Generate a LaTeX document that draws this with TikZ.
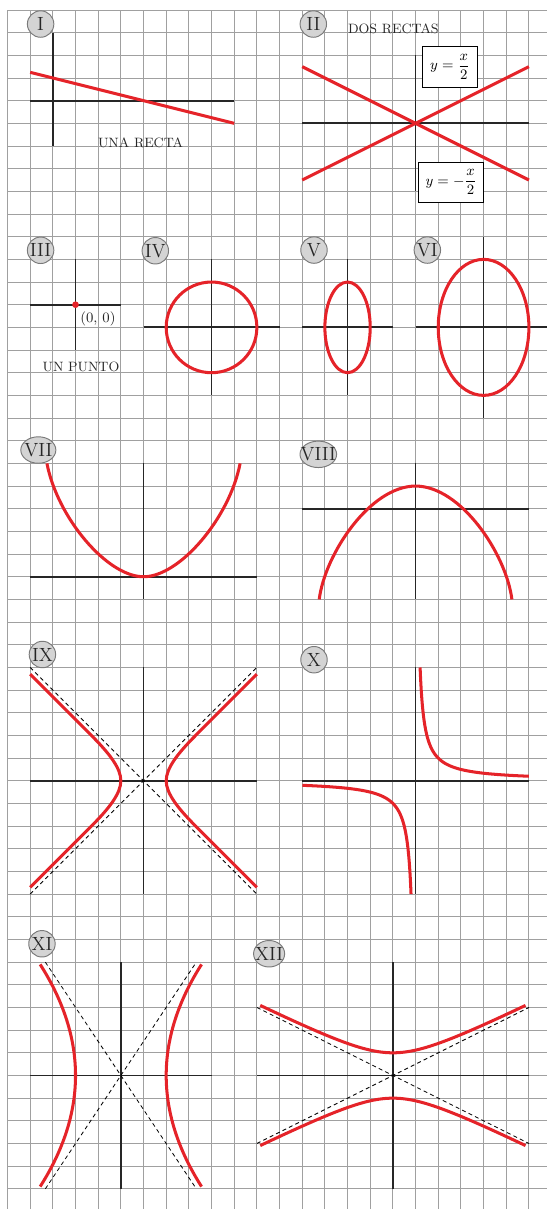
\documentclass[tikz,border=0pt]{standalone}
\usepackage{amsmath}
\usepackage{fontspec}
\usepackage{tikz}
\usetikzlibrary{shapes.geometric}
\definecolor{gridgray}{HTML}{A0A0A0}
\definecolor{curvered}{HTML}{E52329}
\definecolor{tagfill}{HTML}{D4D4D4}
\definecolor{tagedge}{HTML}{7A7A7A}
\definecolor{inkdark}{HTML}{262626}

\begin{document}
\begin{tikzpicture}[x=0.5cm,y=0.5cm,
  gridline/.style={draw=gridgray,line width=0.6pt},
  axis/.style={draw=inkdark,line width=1.1pt},
  curve/.style={draw=curvered,line width=1.9pt},
  asym/.style={draw=black,line width=0.5pt,dash pattern=on 2.5pt off 2pt},
  numtag/.style={ellipse,draw=tagedge,fill=tagfill,line width=0.6pt,inner sep=0pt,inner xsep=-3pt,minimum width=16.6pt,minimum height=16.6pt,text=inkdark,font=\fontsize{12}{12}\selectfont},
  caption/.style={text=inkdark,inner sep=0pt,font=\fontsize{8.5}{9}\selectfont},
  eqbox/.style={draw=black,fill=white,line width=0.6pt,inner sep=2pt,font=\fontsize{9}{10}\selectfont}]
\useasboundingbox (-0.331,0.441) rectangle (23.80,-52.89);
\draw[gridline,step=1] (0,-52.89) grid (23.80,0);

\draw[axis] (1,-4) -- (10,-4);
\draw[axis] (2,-1) -- (2,-6);
\draw[curve] (1,-2.75) -- (10,-5);
\node[caption] (t1) at (5.87,-5.85) {UNA RECTA};
\node[numtag] (l1) at (1.46,-0.62) {I};

\draw[axis] (13,-5) -- (23,-5);
\draw[axis] (18,-2) -- (18,-8);
\draw[curve] (13,-2.5) -- (23,-7.5);
\draw[curve] (13,-7.5) -- (23,-2.5);
\node[caption] (t2) at (17.02,-0.82) {DOS RECTAS};
\node[eqbox,minimum width=34pt,minimum height=25.5pt] (b1) at (19.52,-2.51) {$y=\dfrac{x}{2}$};
\node[eqbox,minimum width=41pt,minimum height=25pt] (b2) at (19.57,-7.6) {$y=-\dfrac{x}{2}$};
\node[numtag] (l2) at (13.49,-0.62) {II};

\draw[axis] (1,-13) -- (5,-13);
\draw[axis] (3,-11) -- (3,-15);
\fill[curvered] (3,-13) circle[radius=2.1pt];
\node[caption,anchor=west,font=\fontsize{9}{10}\selectfont] (t3) at (3.2,-13.63) {(0, 0)};
\node[caption] (t4) at (3.24,-15.75) {UN PUNTO};
\node[numtag] (l3) at (1.46,-10.6) {III};

\draw[axis] (6,-14) -- (12,-14);
\draw[axis] (9,-11) -- (9,-17);
\draw[curve] (9,-14) circle[radius=2];
\node[numtag] (l4) at (6.52,-10.62) {IV};

\draw[axis] (13,-14) -- (17,-14);
\draw[axis] (15,-11) -- (15,-17);
\draw[curve] (15,-14) ellipse[x radius=1,y radius=2];
\node[numtag] (l5) at (13.52,-10.59) {V};

\draw[axis] (18,-14) -- (23.80,-14);
\draw[axis] (21,-10) -- (21,-18);
\draw[curve] (21,-14) ellipse[x radius=2,y radius=3];
\node[numtag] (l6) at (18.52,-10.59) {VI};

\draw[axis] (1,-25) -- (11,-25);
\draw[axis] (6,-20) -- (6,-26);
\draw[curve] (1.74,-20) .. controls (2.2,-22.4) and (4.4,-25) .. (6,-25) .. controls (7.6,-25) and (9.8,-22.4) .. (10.26,-20);
\node[numtag,minimum width=22pt] (l7) at (1.36,-19.41) {VII};

\draw[axis] (13,-22) -- (23,-22);
\draw[axis] (18,-20) -- (18,-26);
\draw[curve] (13.75,-26) .. controls (14,-24) and (16,-21) .. (18,-21) .. controls (20,-21) and (22,-24) .. (22.25,-26);
\node[numtag,minimum width=23pt] (l8) at (13.71,-19.6) {VIII};

\draw[axis] (1,-34) -- (11,-34);
\draw[axis] (6,-29) -- (6,-39);
\draw[asym] (1,-29) -- (11,-39);
\draw[asym] (1,-39) -- (11,-29);
\draw[curve] (1,-29.3) -- (3.7,-32) .. controls (4.5,-32.8) and (5,-33.45) .. (5,-34) .. controls (5,-34.55) and (4.5,-35.2) .. (3.7,-36) -- (1,-38.7);
\draw[curve] (11,-29.3) -- (8.3,-32) .. controls (7.5,-32.8) and (7,-33.45) .. (7,-34) .. controls (7,-34.55) and (7.5,-35.2) .. (8.3,-36) -- (11,-38.7);
\node[numtag] (l9) at (1.54,-28.43) {IX};

\draw[axis] (13,-34) -- (23,-34);
\draw[axis] (18,-29) -- (18,-39);
\draw[curve,domain=-1.609:1.609,samples=60,smooth] plot ({18+exp(\x)},{-34+exp(-\x)});
\draw[curve,domain=-1.609:1.609,samples=60,smooth] plot ({18-exp(\x)},{-34-exp(-\x)});
\node[numtag] (l10) at (13.52,-28.66) {X};

\draw[axis] (1,-47) -- (9,-47);
\draw[axis] (5,-42) -- (5,-52);
\draw[asym] (1.67,-42) -- (8.33,-52);
\draw[asym] (1.67,-52) -- (8.33,-42);
\draw[curve,domain=-4.9:4.9,samples=40,smooth] plot ({3-(\x)*(\x)/15.4},{-47+\x});
\draw[curve,domain=-4.9:4.9,samples=40,smooth] plot ({7+(\x)*(\x)/15.4},{-47+\x});
\node[numtag] (l11) at (1.52,-41.19) {XI};

\draw[axis] (11,-47) -- (23,-47);
\draw[axis] (17,-42) -- (17,-52);
\draw[asym] (11,-44) -- (23,-50);
\draw[asym] (11,-50) -- (23,-44);
\draw[curve,domain=-5.85:5.85,samples=50,smooth] plot ({17+\x},{-47+sqrt(1+(\x)*(\x)/4)});
\draw[curve,domain=-5.85:5.85,samples=50,smooth] plot ({17+\x},{-47-sqrt(1+(\x)*(\x)/4)});
\node[numtag,minimum width=19.5pt] (l12) at (11.54,-41.63) {XII};
\end{tikzpicture}
\end{document}
